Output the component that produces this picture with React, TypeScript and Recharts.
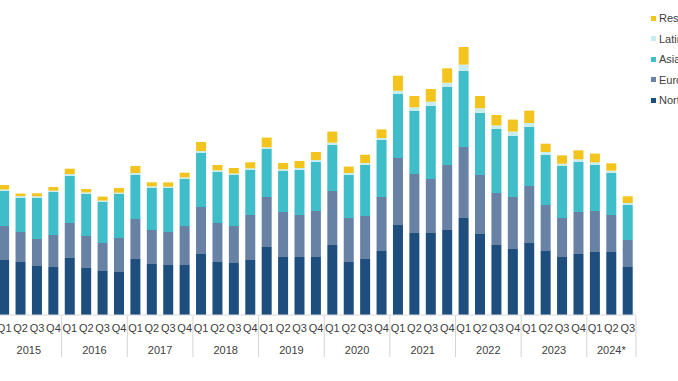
import { BarChart, Bar, XAxis, YAxis } from "recharts"

// quarterly values, stacked bottom to top
const quarters = [
  "Q1", "Q2", "Q3", "Q4", "Q1", "Q2", "Q3", "Q4", "Q1", "Q2", "Q3", "Q4",
  "Q1", "Q2", "Q3", "Q4", "Q1", "Q2", "Q3", "Q4", "Q1", "Q2", "Q3", "Q4",
  "Q1", "Q2", "Q3", "Q4", "Q1", "Q2", "Q3", "Q4", "Q1", "Q2", "Q3", "Q4",
  "Q1", "Q2", "Q3",
]
const years = [
  "2015", "2015", "2015", "2015", "2016", "2016", "2016", "2016", "2017", "2017", "2017", "2017",
  "2018", "2018", "2018", "2018", "2019", "2019", "2019", "2019", "2020", "2020", "2020", "2020",
  "2021", "2021", "2021", "2021", "2022", "2022", "2022", "2022", "2023", "2023", "2023", "2023",
  "2024*", "2024*", "2024*",
]
const northAmerica = [55, 53, 49, 48, 57, 47, 44, 43, 56, 51, 50, 50, 61, 53, 52, 55, 68, 58, 58, 58, 70, 53, 56, 64, 90, 82, 82, 85, 97, 81, 70, 66, 72, 64, 58, 61, 63, 63, 48]
const europe = [34, 30, 27, 32, 35, 32, 28, 34, 40, 34, 33, 39, 47, 39, 37, 45, 50, 45, 42, 46, 54, 44, 43, 54, 67, 59, 54, 65, 71, 59, 52, 52, 57, 46, 39, 42, 41, 37, 27]
const asiaPacific = [35, 34, 41, 43, 47, 42, 41, 44, 44, 42, 44, 47, 54, 51, 51, 45, 48, 41, 45, 49, 46, 43, 51, 57, 64, 63, 73, 78, 76, 62, 64, 61, 59, 50, 52, 50, 46, 42, 35]
const latinAmerica = [1.5, 2, 1.7, 1.3, 2, 1.6, 1.4, 1.3, 2, 1.7, 1.3, 1.6, 2, 1.7, 1.6, 1.7, 1.7, 1.7, 2, 2, 2.4, 2, 2, 2, 3.3, 3.7, 4.3, 4.3, 6.4, 4.7, 3.6, 4.4, 4, 3, 2.3, 2.7, 2.7, 2.4, 2]
const restOfWorld = [4.5, 2.5, 3, 3.7, 5.3, 3.4, 4, 4.7, 7, 4, 4.3, 4.7, 9, 5.3, 5.4, 6, 9.7, 6.3, 7, 8, 11, 6.4, 8.3, 8.6, 15, 11.3, 12.7, 14.4, 17.6, 12.3, 10.4, 12, 12.4, 8.3, 8.3, 9, 8.7, 7.3, 6.7]

const series = [
  { key: "northAmerica", name: "North America", color: "#1d4e7e", values: northAmerica },
  { key: "europe", name: "Europe", color: "#6882a6", values: europe },
  { key: "asiaPacific", name: "Asia Pacific", color: "#3fbec9", values: asiaPacific },
  { key: "latinAmerica", name: "Latin America", color: "#c8edf0", values: latinAmerica },
  { key: "restOfWorld", name: "Rest of World", color: "#f4c41e", values: restOfWorld },
]

const data = quarters.map((q, i) => {
  const row: any = { id: `${years[i]}-${q}`, q, year: years[i] }
  series.forEach((s) => { row[s.key] = s.values[i] })
  return row
})

const font = "'Liberation Sans', Arial, sans-serif"
const textColor = "#404040"

const YearTick = (props: any) => {
  const { x, y, payload, index } = props
  const half = payload?.offset || 8.2
  const yr = data[index].year
  const isFirst = index === 0 || data[index - 1].year !== yr
  if (!isFirst) return <g />
  let n = 0
  while (index + n < data.length && data[index + n].year === yr) n++
  const start = x - half
  const end = start + n * 2 * half
  const isLast = index + n === data.length
  return (
    <g>
      <line x1={start} x2={start} y1={y - 29} y2={y + 12} stroke="#d4d4d4" />
      {isLast && <line x1={end} x2={end} y1={y - 29} y2={y + 12} stroke="#d4d4d4" />}
      <text x={(start + end) / 2} y={y + 9} textAnchor="middle" fontSize={11} fill={textColor} fontFamily={font}>
        {yr}
      </text>
    </g>
  )
}

export default function App() {
  return (
    <div style={{ position: "fixed", left: 0, top: 0, width: 678, height: 381, overflow: "hidden", background: "#fff" }}>
      <div style={{ position: "absolute", left: -20, top: 0 }}>
        <BarChart
          width={760}
          height={381}
          data={data}
          margin={{ top: 35, right: 104, left: 16, bottom: 0 }}
          barCategoryGap="19%"
        >
          <XAxis
            dataKey="id"
            height={22}
            interval={0}
            tickLine={false}
            tickMargin={3}
            axisLine={{ stroke: "#d9d9d9" }}
            tickFormatter={(v: string) => v.split("-")[1]}
            tick={{ fontSize: 11, fill: textColor, fontFamily: font }}
          />
          <XAxis
            dataKey="id"
            xAxisId="year"
            height={44}
            interval={0}
            tickLine={false}
            axisLine={false}
            tick={<YearTick />}
          />
          <YAxis hide domain={[0, 280]} />
          {series.map((s) => (
            <Bar key={s.key} dataKey={s.key} name={s.name} stackId="a" fill={s.color} isAnimationActive={false} />
          ))}
        </BarChart>
      </div>
      <div style={{ position: "absolute", left: 651, top: 8, fontFamily: font, fontSize: 11, color: textColor, whiteSpace: "nowrap" }}>
        {[...series].reverse().map((s) => (
          <div key={s.key} style={{ display: "flex", alignItems: "center", height: 20.5 }}>
            <span style={{ display: "inline-block", width: 5, height: 5, background: s.color, marginRight: 3 }} />
            {s.name}
          </div>
        ))}
      </div>
    </div>
  )
}
